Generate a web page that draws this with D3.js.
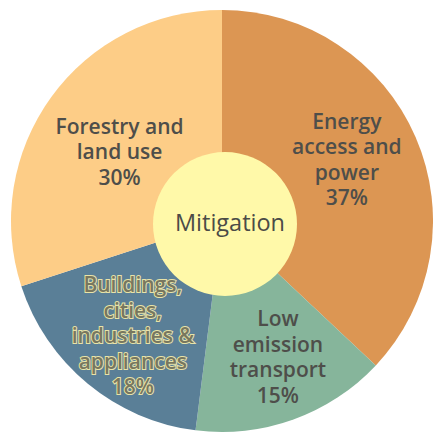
<!DOCTYPE html>
<html>
<head>
<meta charset="utf-8">
<script src="https://cdn.jsdelivr.net/npm/d3@7"></script>
<style>
  body { margin: 0; background: #fff; }
  svg { display: block; }
</style>
</head>
<body>
<svg width="433" height="435"></svg>
<script>
// slices clockwise from 12 o'clock
var categories = ["Energy access and power", "Low emission transport",
                  "Buildings, cities, industries & appliances", "Forestry and land use"];
var shares = [37, 15, 18, 30];
var labelLines = [
  ["Energy", "access and", "power", "37%"],
  ["Low", "emission", "transport", "15%"],
  ["Buildings,", "cities,", "industries &", "appliances", "18%"],
  ["Forestry and", "land use", "30%"]
];
var centreLabel = "Mitigation";

var width = 433, height = 435;
var cx = 222, cy = 221, R = 211, r0 = 72;
var colors = ["#DC9653", "#86B59B", "#5A7F97", "#FDCD87"];
// small hand nudges of the label blocks away from the arc centroid
var nudge = [[-5, -5], [8, 3], [1, 6], [12, 14]];

var svg = d3.select("svg");
var g = svg.append("g").attr("transform", "translate(" + cx + "," + cy + ")");

var pie = d3.pie().sort(null).value(function(d){ return d; });
var arcs = pie(shares);
var arc = d3.arc().innerRadius(0).outerRadius(R);
var labelArc = d3.arc().innerRadius(r0).outerRadius(R);

g.selectAll("path.slice")
  .data(arcs)
  .enter().append("path")
  .attr("class", "slice")
  .attr("d", arc)
  .attr("fill", function(d, i){ return colors[i]; });

g.append("circle")
  .attr("cx", 3).attr("cy", 3)
  .attr("r", r0)
  .attr("fill", "#FFF9A9");

g.append("text")
  .attr("x", 8).attr("y", 2)
  .attr("dy", "0.35em")
  .attr("text-anchor", "middle")
  .attr("font-family", "Open Sans")
  .attr("font-size", 23.5)
  .attr("fill", "#4B4B47")
  .text(centreLabel);

var lineH = 25.5;
arcs.forEach(function(d, i){
  var c = labelArc.centroid(d);
  var x = c[0] + nudge[i][0], y = c[1] + nudge[i][1];
  var lines = labelLines[i];
  var isBuild = i == 2;
  var t = g.append("text")
    .attr("text-anchor", "middle")
    .attr("font-family", "Open Sans")
    .attr("font-weight", 600)
    .attr("font-size", 21)
    .attr("fill", isBuild ? "#78775F" : "#4E4E4A")
    .attr("stroke", isBuild ? "#E8E3A8" : "none")
    .attr("stroke-width", isBuild ? 2 : 0)
    .attr("paint-order", "stroke");
  lines.forEach(function(s, k){
    t.append("tspan")
      .attr("x", x)
      .attr("y", y + (k - (lines.length - 1) / 2) * lineH)
      .attr("dy", "0.35em")
      .text(s);
  });
});
</script>
</body>
</html>
